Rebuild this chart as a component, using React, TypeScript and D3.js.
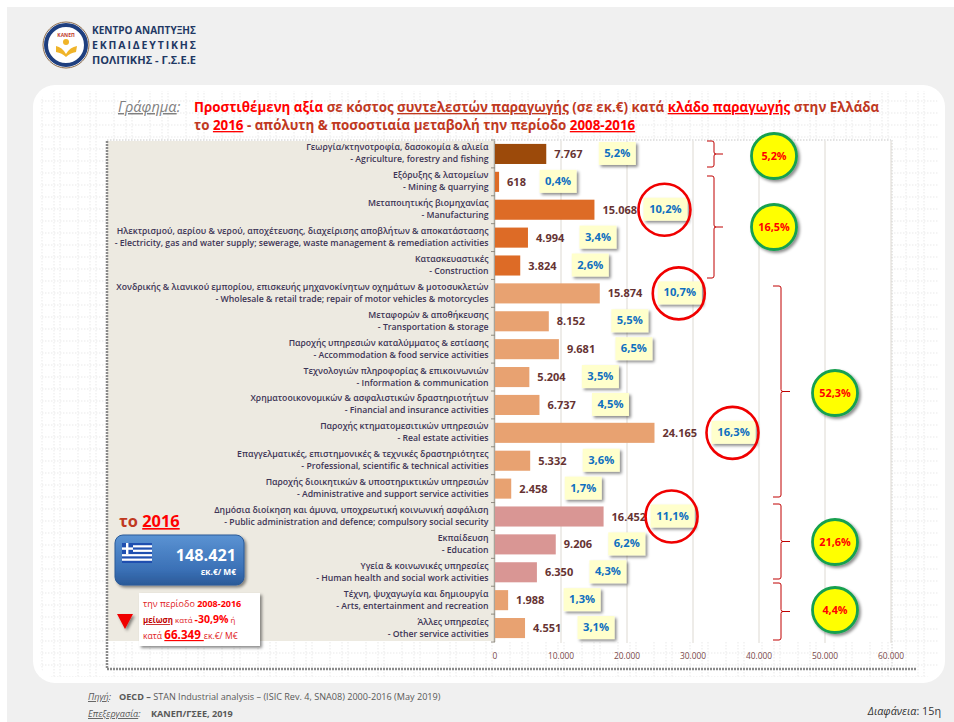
import React from 'react';
import * as d3 from 'd3';

const categoriesGr = ['Γεωργία/κτηνοτροφία, δασοκομία & αλιεία','Εξόρυξης & λατομείων','Μεταποιητικής βιομηχανίας','Ηλεκτρισμού, αερίου & νερού, αποχέτευσης, διαχείρισης αποβλήτων & αποκατάστασης','Κατασκευαστικές','Χονδρικής & λιανικού εμπορίου, επισκευής μηχανοκίνητων οχημάτων & μοτοσυκλετών','Μεταφορών & αποθήκευσης','Παροχής υπηρεσιών καταλύμματος & εστίασης','Τεχνολογιών πληροφορίας & επικοινωνιών','Χρηματοοικονομικών & ασφαλιστικών δραστηριοτήτων','Παροχής κτηματομεσιτικών υπηρεσιών','Επαγγελματικές, επιστημονικές & τεχνικές δραστηριότητες','Παροχής διοικητικών & υποστηρικτικών υπηρεσιών','Δημόσια διοίκηση και άμυνα, υποχρεωτική κοινωνική ασφάλιση','Εκπαίδευση','Υγεία & κοινωνικές υπηρεσίες','Τέχνη, ψυχαγωγία και δημιουργία','Άλλες υπηρεσίες'];
const categoriesEn = ['- Agriculture, forestry and fishing','- Mining & quarrying','- Manufacturing','- Electricity, gas and water supply; sewerage, waste management & remediation activities','- Construction','- Wholesale & retail trade; repair of motor vehicles & motorcycles','- Transportation & storage','- Accommodation & food service activities','- Information & communication','- Financial and insurance activities','- Real estate activities','- Professional, scientific & technical activities','- Administrative and support service activities','- Public administration and defence; compulsory social security','- Education','- Human health and social work activities','- Arts, entertainment and recreation','- Other service activities'];
const values = [7767,618,15068,4994,3824,15874,8152,9681,5204,6737,24165,5332,2458,16452,9206,6350,1988,4551];
const shares = ['5,2%','0,4%','10,2%','3,4%','2,6%','10,7%','5,5%','6,5%','3,5%','4,5%','16,3%','3,6%','1,7%','11,1%','6,2%','4,3%','1,3%','3,1%'];
const groupOf = [0,1,1,1,1,2,2,2,2,2,2,2,2,3,3,3,4,4];
const groupShares = ['5,2%','16,5%','52,3%','21,6%','4,4%'];
const xTicks = [0,10000,20000,30000,40000,50000,60000];
const highlighted = ['10,2%','10,7%','16,3%','11,1%'];

// layout only: distance in px from bar end to the centre of each share box
const boxOffset = [71,59,71,70,70,80,81,75,71,71,79,71,72,69,71,71,74,71];
const groupColors = ['#9c4a0a','#dd6b26','#e8a271','#d99694','#e8a271'];
const groupBracket = [[141,167,707,7],[176,278,707,7],[286,497,773,8],[504,579,773,8],[583,640,773,8]];
const groupCircle = [[774,156],[774,227],[835,393],[835,542],[835,610]];

const FONT = '"Open Sans","Noto Sans",sans-serif';
const loc = d3.formatLocale({decimal:',',thousands:'.',grouping:[3],currency:['','']});
const fmt = loc.format(',d');

const x = d3.scaleLinear().domain([0,60000]).range([495,891]);
const y = d3.scaleBand<number>().domain(d3.range(values.length)).range([140,642]).paddingInner(0.28).paddingOuter(0.14);

function bracketPath(t:number,b:number,xl:number,w:number){
  const m=(t+b)/2, xr=xl+w;
  return `M${xl},${t}H${xr-2}Q${xr},${t} ${xr},${t+2}V${m-2}Q${xr},${m} ${xr+2},${m}H${xr+9}M${xr+2},${m}Q${xr},${m} ${xr},${m+2}V${b-2}Q${xr},${b} ${xr-2},${b}H${xl}`;
}

export default function App(){
  const c = (i:number)=> (y(i) as number)+y.bandwidth()/2;
  return (
    <svg width={954} height={722} style={{position:'absolute',left:0,top:0,fontFamily:FONT}}>
      <defs>
        <pattern id="tex" width="36" height="24" patternUnits="userSpaceOnUse">
          <path d="M6,0V24M18,0V24M24,0V24" stroke="#e9e9e9" strokeWidth="1" strokeDasharray="1.5 1.5"/>
          <path d="M0,5H36M0,17H36" stroke="#e9e9e9" strokeWidth="1" strokeDasharray="1.5 1.5"/>
        </pattern>
        <filter id="sh" x="-30%" y="-30%" width="170%" height="170%"><feDropShadow dx="2" dy="2" stdDeviation="1.5" floodColor="#000" floodOpacity="0.45"/></filter>
        <linearGradient id="blue" x1="0" y1="0" x2="0" y2="1"><stop offset="0" stopColor="#5b93d3"/><stop offset="0.7" stopColor="#3a70b6"/><stop offset="1" stopColor="#2a5a98"/></linearGradient>
        <clipPath id="flag"><rect x={122} y={543} width={30} height={20}/></clipPath>
      </defs>
      <rect x={7} y={7} width={947} height={715} fill="#f0f0f0"/>

      {/* logo */}
      <circle cx={66} cy={45} r={23} fill="#fff" stroke="#8a6a4a" strokeWidth={1}/>
      <circle cx={66} cy={45} r={20} fill="none" stroke="#1f3f7f" strokeWidth={4}/>
      <path d="M56,46Q62,47 66,54Q70,47 77,46L76,52Q70,53 66,57Q62,53 56,52Z" fill="#f0b429"/>
      <circle cx={66} cy={42} r={3} fill="#f0b429"/>
      <text x={66} y={37} textAnchor="middle" fontSize={5} fontWeight={700} fill="#c0392b">ΚΑΝΕΠ</text>
      <g fontWeight={700} fill="#1f3864" fontSize={10.5}>
        <text x={92} y={34} textLength={104} lengthAdjust="spacingAndGlyphs">ΚΕΝΤΡΟ ΑΝΑΠΤΥΞΗΣ</text>
        <text x={92} y={49} textLength={104} lengthAdjust="spacing">ΕΚΠΑΙΔΕΥΤΙΚΗΣ</text>
        <text x={92} y={64} textLength={104} lengthAdjust="spacingAndGlyphs">ΠΟΛΙΤΙΚΗΣ - Γ.Σ.Ε.Ε</text>
      </g>

      {/* panel */}
      <rect x={33} y={85} width={912} height={598} rx={22} fill="#fff"/>
      <rect x={40} y={91} width={898} height={586} rx={14} fill="url(#tex)"/>

      {/* plot frame */}
      <rect x={107} y={140} width={784} height={502} fill="#fff"/>
      <rect x={107} y={642} width={810} height={27} fill="#fff"/>
      <rect x={107} y={642} width={810} height={27} fill="url(#tex)"/>
      <rect x={107} y={141} width={388} height={500} fill="#edeae1"/>
      <line x1={107} x2={107} y1={141} y2={669} stroke="#8a8a8a" strokeWidth={2.5} strokeDasharray="2 1"/>
      <line x1={107} x2={917} y1={669} y2={669} stroke="#8a8a8a" strokeWidth={2.5} strokeDasharray="2 1"/>
      <line x1={107} x2={891} y1={140} y2={140} stroke="#c8c8c8" strokeWidth={1} strokeDasharray="1.5 1.5"/>
      <line x1={892} x2={892} y1={140} y2={669} stroke="#d0d0d0" strokeWidth={1} strokeDasharray="1.5 1.5"/>

      {/* title */}
      <g fontSize={13.35} fontWeight={700}>
        <text x={118} y={112} fill="#c0391f">
          <tspan fill="#7f7f7f" fontStyle="italic" fontWeight={400} fontSize={14.6} textDecoration="underline">Γράφημα</tspan>
          <tspan fill="#7f7f7f" fontStyle="italic" fontWeight={400} fontSize={14.6}>:</tspan>
          <tspan x={194} fill="#ff0000">Προστιθέμενη αξία</tspan>
          <tspan> σε κόστος </tspan>
          <tspan textDecoration="underline">συντελεστών παραγωγής</tspan>
          <tspan> (σε εκ.€) κατά </tspan>
          <tspan fill="#ff0000" textDecoration="underline">κλάδο παραγωγής</tspan>
          <tspan> στην Ελλάδα</tspan>
        </text>
        <text x={194} y={130} fill="#c0391f">
          <tspan>το </tspan>
          <tspan fill="#ff0000" textDecoration="underline">2016</tspan>
          <tspan> - απόλυτη & ποσοστιαία μεταβολή την περίοδο </tspan>
          <tspan fill="#ff0000" textDecoration="underline">2008-2016</tspan>
        </text>
      </g>

      {/* grid */}
      {xTicks.slice(1).map(t=><line key={t} x1={x(t)} x2={x(t)} y1={141} y2={643} stroke="#ddd9d2" strokeWidth={1}/>)}

      {/* labels */}
      {values.map((_,i)=>(
        <g key={i} fontSize={8.7} fontWeight={600} fill="#3d3556" textAnchor="end">
          <text x={488.5} y={c(i)-3.5}>{categoriesGr[i]}</text>
          <text x={488.5} y={c(i)+8.5}>{categoriesEn[i]}</text>
        </g>
      ))}

      {/* axis */}
      <line x1={x(0)-0.5} x2={x(0)-0.5} y1={141} y2={642} stroke="#a9a59a" strokeWidth={1.5}/>
      {d3.range(values.length+1).map(i=><line key={i} x1={x(0)-4} x2={x(0)} y1={140+i*502/values.length} y2={140+i*502/values.length} stroke="#8f8b80"/>)}
      {xTicks.map(t=><text key={t} x={x(t)} y={659} textAnchor="middle" fontSize={8.4} fill="#7a4a4a">{fmt(t)}</text>)}

      {/* bars */}
      {values.map((v,i)=>(
        <rect key={i} x={x(0)} y={y(i)} width={x(v)-x(0)} height={y.bandwidth()} fill={groupColors[groupOf[i]]}/>
      ))}
      {values.map((v,i)=>(
        <text key={i} x={x(v)+8} y={c(i)+4} fontSize={11} fontWeight={700} fill="#663333">{fmt(v)}</text>
      ))}

      {/* share boxes */}
      {shares.map((s,i)=>{
        const cx=x(values[i])+boxOffset[i];
        const w=s.length>4?44:37;
        return <g key={i}>
          <rect x={cx-w/2} y={c(i)-12} width={w} height={23} fill="#ffffcc" filter="url(#sh)"/>
          <text x={cx} y={c(i)+3} textAnchor="middle" fontSize={11.2} fontWeight={700} fill="#0f6fc0">{s}</text>
        </g>;
      })}
      {shares.map((s,i)=>highlighted.includes(s) ? (
        <circle key={i} cx={x(values[i])+boxOffset[i]-1} cy={c(i)} r={26} fill="none" stroke="#f00000" strokeWidth={2.6}/>
      ):null)}

      {/* brackets + circles */}
      {groupShares.map((s,i)=>{
        const [t,b,xl,w]=groupBracket[i]; const [cx,cy]=groupCircle[i];
        return <g key={i}>
          <path d={bracketPath(t,b,xl,w)} fill="none" stroke="#c00000" strokeWidth={1}/>
          <circle cx={cx} cy={cy} r={22.5} fill="#ffff00" stroke="#18a050" strokeWidth={2.8} filter="url(#sh)"/>
          <text x={cx} y={cy+4} textAnchor="middle" fontSize={10.8} fontWeight={700} fill="#ff0000">{s}</text>
        </g>;
      })}

      {/* side summary */}
      <text x={119} y={527} fontSize={16.4} fontWeight={700} fill="#c0391f">το <tspan fill="#ff0000" textDecoration="underline">2016</tspan></text>
      <rect x={115} y={535} width={129} height={50} rx={8} fill="url(#blue)" stroke="#2a5a98" filter="url(#sh)"/>
      <g clipPath="url(#flag)">
        <rect x={122} y={543} width={30} height={20} fill="#1f4fb0"/>
        {d3.range(1,9,2).map(k=><rect key={k} x={122} y={543+k*20/9} width={30} height={20/9} fill="#fff"/>)}
        <rect x={122} y={543} width={11} height={11} fill="#1f4fb0"/>
        <rect x={126} y={543} width={2.4} height={11} fill="#fff"/>
        <rect x={122} y={547.4} width={11} height={2.4} fill="#fff"/>
      </g>
      <text x={236} y={561} textAnchor="end" fontSize={16.2} fontWeight={700} fill="#fff">148.421</text>
      <text x={236} y={575} textAnchor="end" fontSize={8.4} fontWeight={700} fill="#fff">εκ.€/ Μ€</text>
      <rect x={139} y={593} width={121} height={53} fill="#fff" filter="url(#sh)"/>
      <path d="M117,614H133L125,629Z" fill="#f00000" filter="url(#sh)"/>
      <g fill="#e02020">
        <text x={143} y={607} fontSize={9}>την περίοδο <tspan fontWeight={700} fill="#ff0000">2008-2016</tspan></text>
        <text x={143} y={623} fontSize={7.9}><tspan fontWeight={700} textDecoration="underline" fill="#c00000">μείωση</tspan> κατά <tspan fontWeight={700} fontSize={10.5} fill="#ff0000">-30,9%</tspan> ή</text>
        <text x={143} y={639} fontSize={8.6}>κατά <tspan fontWeight={700} fontSize={11.6} fill="#ff0000" textDecoration="underline">66.349 </tspan><tspan>εκ.€/ Μ€</tspan></text>
      </g>

      {/* footer */}
      <g fontSize={9.1} fill="#595959">
        <text x={88} y={700}><tspan fontStyle="italic" textDecoration="underline">Πηγή</tspan><tspan fontStyle="italic">:</tspan><tspan x={119} fontWeight={700}>OECD –</tspan> STAN Industrial analysis – (ISIC Rev. 4, SNA08) 2000-2016 (May 2019)</text>
        <text x={88} y={717}><tspan fontStyle="italic" textDecoration="underline">Επεξεργασία</tspan><tspan fontStyle="italic">:</tspan><tspan x={151} fontWeight={700}>ΚΑΝΕΠ/ΓΣΕΕ, 2019</tspan></text>
      </g>
      <text x={941} y={715} textAnchor="end" fontSize={10.8} fill="#333"><tspan fontStyle="italic">Διαφάνεια</tspan>: 15η</text>
    </svg>
  );
}
